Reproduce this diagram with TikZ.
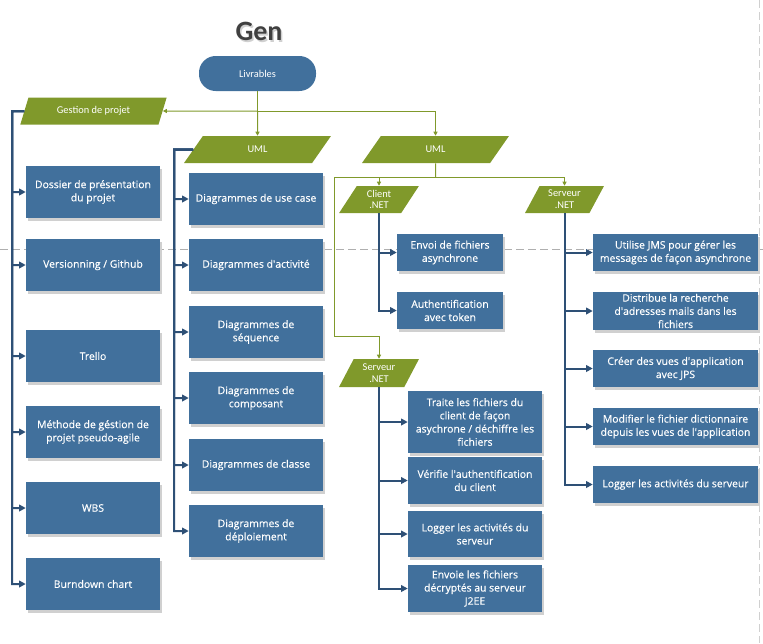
\documentclass[tikz,border=0pt]{standalone}
\usepackage{fontspec}
\setmainfont{Open Sans}
\newfontfamily\boxfont{Open Sans}[FakeBold=0.35]
\newfontfamily\carl{Carlito}
\usetikzlibrary{shapes.geometric,shadows,arrows.meta}
\definecolor{boxblue}{RGB}{65,112,156}
\definecolor{lineblue}{RGB}{46,80,118}
\definecolor{olive}{RGB}{128,153,43}
\definecolor{gentext}{RGB}{64,64,64}
\definecolor{shadowgray}{RGB}{208,208,208}
\definecolor{pagegray}{RGB}{175,175,175}
\newcommand{\q}{\textquotesingle}
\tikzset{
  sz/.style 2 args={minimum width=#1*0.75pt, minimum height=#2*0.75pt},
  bbox/.style={fill=boxblue, text=white, align=center, inner sep=0pt,
    font=\boxfont\fontsize{7.8}{9.9}\selectfont,
    drop shadow={shadow xshift=1.5pt, shadow yshift=-2.25pt, fill=shadowgray, opacity=1}},
  gpar/.style={trapezium, trapezium left angle=63, trapezium right angle=117,
    trapezium stretches=true, fill=olive, text=white, align=center, inner sep=0pt,
    font=\carl\fontsize{7.8}{8.8}\selectfont},
  pill/.style={fill=boxblue, text=white, rounded corners=12.5pt, inner sep=0pt,
    font=\carl\fontsize{7.8}{9}\selectfont},
  bline/.style={draw=lineblue, line width=1.5pt},
  barrow/.style={bline, -{Triangle[length=5pt,width=5pt]}},
  gline/.style={draw=olive, line width=0.75pt},
  garrow/.style={gline, -{Triangle[length=3pt,width=3pt]}},
  pagebreak/.style={draw=pagegray, line width=0.75pt, dash pattern=on 6pt off 3pt},
}
\begin{document}
\begin{tikzpicture}[x=0.75pt,y=-0.75pt]
\useasboundingbox (0,0) rectangle (763,643);
% page break lines
\draw[pagebreak] (0,249) -- (763,249);
\draw[pagebreak, draw=shadowgray] (759.5,0) -- (759.5,643);

% title
\node[text=shadowgray, font=\carl\bfseries\fontsize{21}{24}\selectfont] (gensh) at (260.5,33) {Gen};
\node[text=gentext, font=\carl\bfseries\fontsize{21}{24}\selectfont] (gen) at (259,31) {Gen};

% top
\node[pill, sz={117}{35}] (liv) at (257.5,73.5) {Livrables};
\node[gpar, sz={147}{27}] (gp) at (93.5,111) {Gestion de projet};
\node[gpar, sz={147}{27}] (uml1) at (257.5,149.5) {UML};
\node[gpar, sz={147}{27}] (uml2) at (435.5,149.5) {UML};
\node[gpar, sz={80}{27}] (cl) at (379,199.5) {Client\\.NET};
\node[gpar, sz={79}{27}] (sr) at (564.5,199.5) {Serveur\\.NET};
\node[gpar, sz={80}{28}] (sm) at (379,373) {Serveur\\.NET};

% left column
\node[bbox, sz={134}{52}] (b1) at (93,192) {Dossier de présentation\\du projet};
\node[bbox, sz={134}{52}] (b2) at (93,265) {Versionning / Github};
\node[bbox, sz={134}{52}] (b3) at (93,356) {Trello};
\node[bbox, sz={134}{52}] (b4) at (93,432) {Méthode de géstion de\\projet pseudo-agile};
\node[bbox, sz={134}{52}] (b5) at (93,508) {WBS};
\node[bbox, sz={134}{52}] (b6) at (93,584) {Burndown chart};

% UML column
\node[bbox, sz={134}{52}] (u1) at (256,199) {Diagrammes de use case};
\node[bbox, sz={134}{52}] (u2) at (256,265) {Diagrammes d\q activité};
\node[bbox, sz={134}{52}] (u3) at (256,332) {Diagrammes de\\séquence};
\node[bbox, sz={134}{52}] (u4) at (256,398) {Diagrammes de\\composant};
\node[bbox, sz={134}{52}] (u5) at (256,465) {Diagrammes de classe};
\node[bbox, sz={134}{52}] (u6) at (256,531) {Diagrammes de\\déploiement};

% client
\node[bbox, sz={106}{37}] (c1) at (450,252.5) {Envoi de fichiers\\asynchrone};
\node[bbox, sz={106}{37}] (c2) at (450,310.5) {Authentification\\avec token};

% serveur right
\node[bbox, sz={165}{37}] (r1) at (675.5,252.5) {Utilise JMS pour gérer les\\messages de façon asynchrone};
\node[bbox, sz={165}{38}] (r2) at (675.5,311) {Distribue la recherche\\d\q adresses mails dans les\\fichiers};
\node[bbox, sz={165}{37}] (r3) at (675.5,368.5) {Créer des vues d\q application\\avec JPS};
\node[bbox, sz={165}{37}] (r4) at (675.5,426.5) {Modifier le fichier dictionnaire\\depuis les vues de l\q application};
\node[bbox, sz={165}{37}] (r5) at (675.5,484.5) {Logger les activités du serveur};

% serveur middle
\node[bbox, sz={134}{62}] (m1) at (475,422) {Traite les fichiers du\\client de façon\\asychrone / déchiffre les\\fichiers};
\node[bbox, sz={134}{47}] (m2) at (475,480.5) {Vérifie l\q authentification\\du client};
\node[bbox, sz={134}{46}] (m3) at (475,534) {Logger les activités du\\serveur};
\node[bbox, sz={134}{47}] (m4) at (475,588.5) {Envoie les fichiers\\décryptés au serveur\\J2EE};

% green connectors
\coordinate (j1) at (257.5,111);
\coordinate (j2) at (435.5,177);
\coordinate (j3) at (334,177);
\coordinate (j4) at (334,336);
\draw[gline] (liv.south) -- (j1);
\draw[garrow] (j1) -- (gp.east);
\draw[garrow] (j1) -- (uml1.north);
\draw[garrow] (j1) -| (uml2.north);
\draw[gline] (uml2.south) -- (j2);
\draw[garrow] (j2) -| (cl.north);
\draw[garrow] (j2) -| (sr.north);
\draw[garrow] (j2) -- (j3) -- (j4) -| (sm.north);

% blue connectors
\coordinate (gpb) at (12,111);
\coordinate (umb) at (174,149.5);
\foreach \n in {b1,b2,b3,b4,b5,b6}
  \draw[barrow] (gp.west) -- (gpb) |- (\n.west);
\foreach \n in {u1,u2,u3,u4,u5,u6}
  \draw[barrow] (uml1.west) -- (umb) |- (\n.west);
\foreach \n in {c1,c2}
  \draw[barrow] (cl.south) |- (\n.west);
\foreach \n in {r1,r2,r3,r4,r5}
  \draw[barrow] (sr.south) |- (\n.west);
\foreach \n in {m1,m2,m3,m4}
  \draw[barrow] (sm.south) |- (\n.west);
\end{tikzpicture}
\end{document}
